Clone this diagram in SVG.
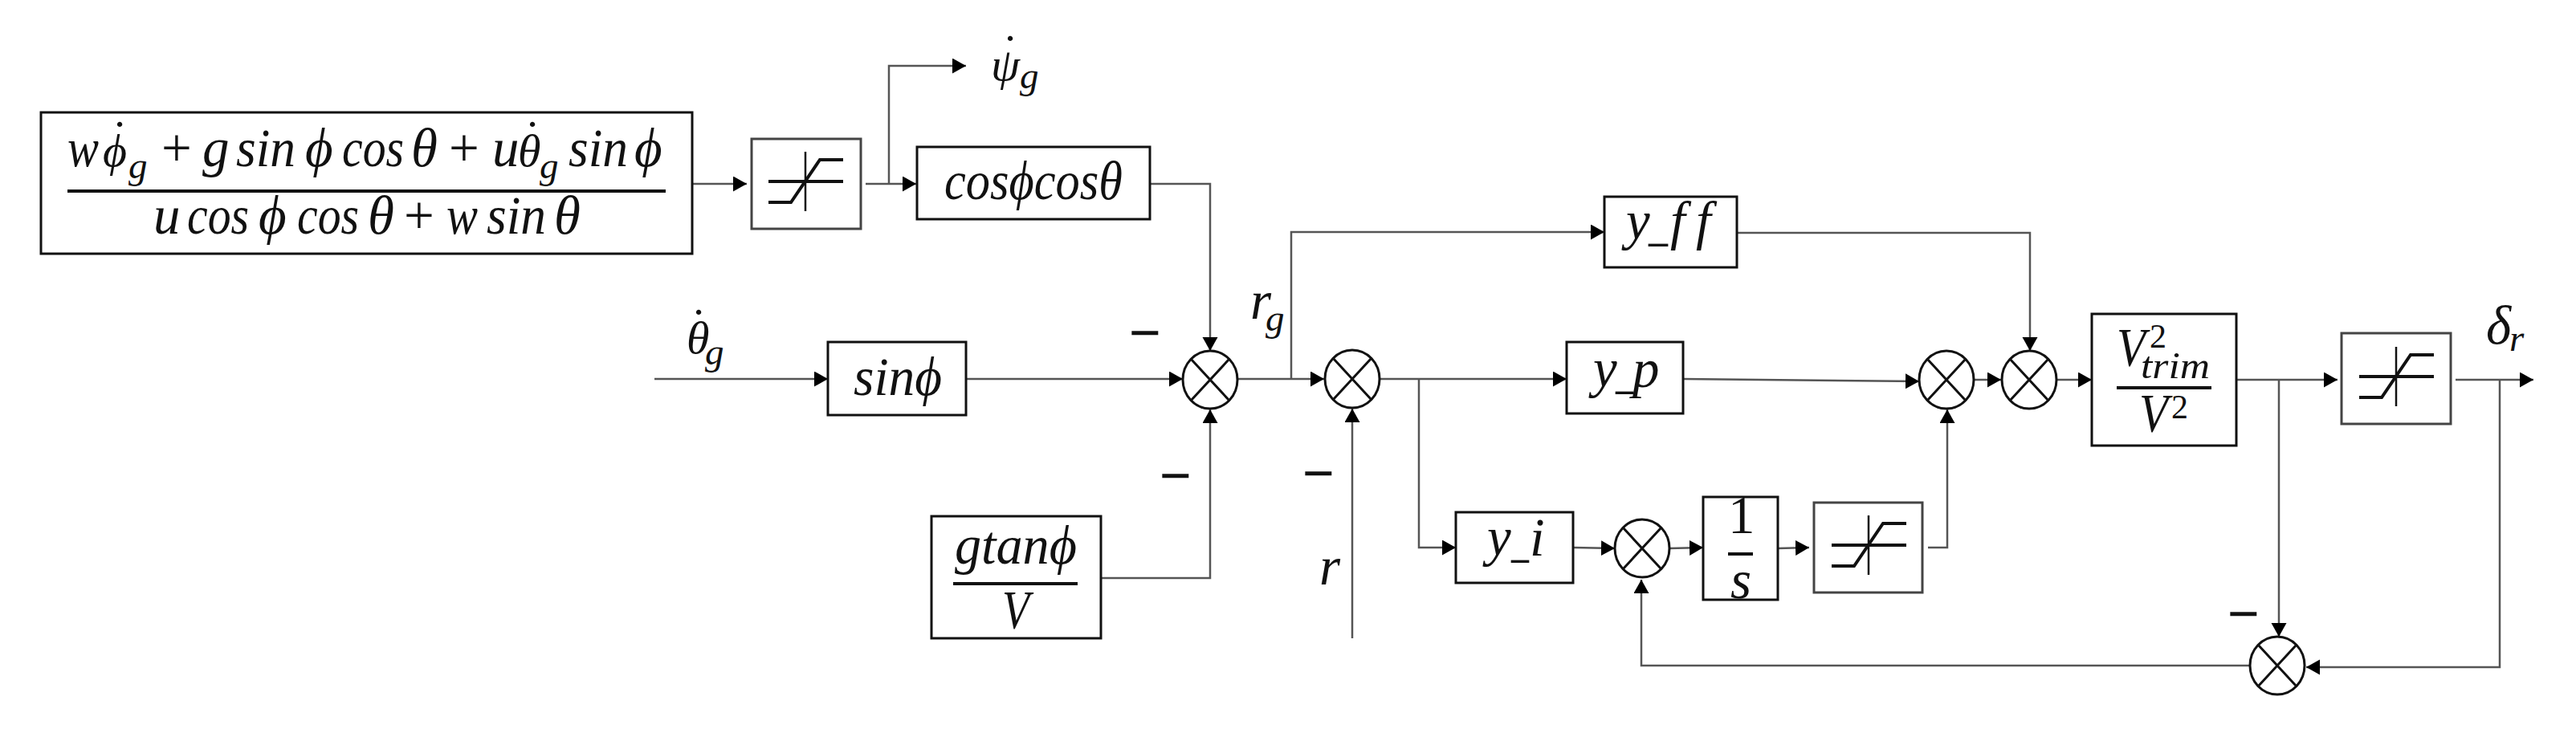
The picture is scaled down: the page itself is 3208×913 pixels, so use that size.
<svg xmlns="http://www.w3.org/2000/svg" width="3208" height="913" viewBox="0 0 3208 913">
<style>
text{font-family:"Liberation Serif","DejaVu Serif",serif;font-style:italic;font-size:67px;fill:#111}
.up{font-style:normal}
.sub{font-size:47px}
.sup{font-style:normal;font-size:42px}
.dot{font-style:normal;font-size:60px}
.ac{font-size:58px}
.minus{font-style:normal;stroke:#111;stroke-width:1.6}
.box{fill:#fff;stroke:#111;stroke-width:3}
.thin{fill:#fff;stroke:#444;stroke-width:3}
.bar{stroke:#111;stroke-width:4;fill:none}
.c{fill:none;stroke:#555;stroke-width:2.5;marker-end:url(#arr)}
.n{fill:none;stroke:#555;stroke-width:2.5}
.sym{fill:#fff;stroke:#111;stroke-width:3}
.sat{fill:none;stroke:#111;stroke-width:4}
.sat2{fill:none;stroke:#111;stroke-width:2.5}
</style>
<defs>
<marker id="arr" markerUnits="userSpaceOnUse" markerWidth="18" markerHeight="20" refX="17" refY="9.5" orient="auto"><path d="M0 0L17 9.5L0 19Z" fill="#000"/></marker>
<g id="sum"><ellipse class="sym" rx="34" ry="36"/><path class="sym" d="M-24-26L24 26M-24 26L24-26"/></g>
<g id="satg"><path class="sat" d="M-46 0H47M-46 26H-18L18-27H47"/><path class="sat2" d="M0-37V37"/></g>
</defs>
<rect width="3208" height="913" fill="#fff"/>
<g id="connectors">
<path class="c" d="M862 229H930"/>
<path class="n" d="M1078 229H1107"/>
<path class="c" d="M1107 229H1141"/>
<path class="c" d="M1107 229V82H1203"/>
<path class="c" d="M1432 229H1507V437"/>
<path class="c" d="M815 472H1031"/>
<path class="c" d="M1203 472H1473"/>
<path class="c" d="M1371 720H1507V510"/>
<path class="c" d="M1541 472H1649"/>
<path class="c" d="M1608 472V289H1998"/>
<path class="c" d="M1684 795V509"/>
<path class="c" d="M1718 472H1951"/>
<path class="c" d="M1767 472V682H1813"/>
<path class="c" d="M2163 290H2528V437"/>
<path class="c" d="M2096 472L2390 475"/>
<path class="c" d="M1959 682L2011 683"/>
<path class="c" d="M2079 683L2121 682"/>
<path class="c" d="M2214 683L2253 682"/>
<path class="c" d="M2401 682H2425V510"/>
<path class="c" d="M2459 473H2492"/>
<path class="c" d="M2561 473H2605"/>
<path class="c" d="M2785 473H2911"/>
<path class="c" d="M2838 473V793"/>
<path class="n" d="M3058 473H3113"/>
<path class="c" d="M3113 473H3155"/>
<path class="c" d="M3113 473V831H2872"/>
<path class="c" d="M2802 829H2044V722"/>
</g>
<g id="formula">
<rect class="box" x="51" y="140" width="811" height="176"/>
<text y="207"><tspan x="84" textLength="39" lengthAdjust="spacingAndGlyphs">w</tspan><tspan x="128" class="ac">ϕ</tspan><tspan x="160" y="222" class="sub">g</tspan><tspan class="up" x="201" y="207">+</tspan><tspan x="252">g</tspan><tspan x="294" textLength="74" lengthAdjust="spacingAndGlyphs">sin</tspan><tspan x="380">ϕ</tspan><tspan x="426" textLength="77" lengthAdjust="spacingAndGlyphs">cos</tspan><tspan x="512">θ</tspan><tspan class="up" x="559">+</tspan><tspan x="613">u</tspan><tspan x="645" class="ac">θ</tspan><tspan x="672" y="222" class="sub">g</tspan><tspan x="708" y="207" textLength="74" lengthAdjust="spacingAndGlyphs">sin</tspan><tspan x="790">ϕ</tspan></text>
<text class="dot" x="139" y="191">˙</text><text class="dot" x="653" y="191">˙</text>
<path class="bar" d="M84 238H829"/>
<text y="291"><tspan x="191">u</tspan><tspan x="233" textLength="77" lengthAdjust="spacingAndGlyphs">cos</tspan><tspan x="322">ϕ</tspan><tspan x="370" textLength="77" lengthAdjust="spacingAndGlyphs">cos</tspan><tspan x="458">θ</tspan><tspan class="up" x="503">+</tspan><tspan x="556" textLength="39" lengthAdjust="spacingAndGlyphs">w</tspan><tspan x="606" textLength="74" lengthAdjust="spacingAndGlyphs">sin</tspan><tspan x="690">θ</tspan></text>
</g>
<g id="sat1"><rect class="thin" x="936" y="173" width="136" height="112"/><use href="#satg" x="1003" y="226"/></g>
<g id="psi"><text y="100"><tspan x="1234" class="ac">ψ</tspan><tspan x="1270" y="110" class="sub">g</tspan></text><text class="dot" x="1248" y="84">˙</text></g>
<g id="cosbox"><rect class="box" x="1142" y="183" width="290" height="90"/><text x="1176" y="248" textLength="222" lengthAdjust="spacingAndGlyphs">cosϕcosθ</text></g>
<g id="theta"><text y="440"><tspan x="855" class="ac">θ</tspan><tspan x="878" y="454" class="sub">g</tspan></text><text class="dot" x="860" y="425">˙</text></g>
<g id="sinbox"><rect class="box" x="1031" y="426" width="172" height="91"/><text x="1063" y="492" textLength="110" lengthAdjust="spacingAndGlyphs">sinϕ</text></g>
<g id="gtanbox"><rect class="box" x="1160" y="643" width="211" height="152"/><text x="1189" y="702" textLength="152" lengthAdjust="spacingAndGlyphs">gtanϕ</text><path class="bar" d="M1187 727H1342"/><text x="1248" y="782" textLength="34" lengthAdjust="spacingAndGlyphs">V</text></g>
<g id="sum1"><use href="#sum" x="1507" y="473"/></g>
<g id="sum2"><use href="#sum" x="1684" y="472"/></g>
<g id="rg"><text y="397"><tspan x="1557">r</tspan><tspan x="1576" y="412" class="sub">g</tspan></text></g>
<g id="rlabel"><text x="1643" y="728">r</text></g>
<g id="minus1"><text class="minus" x="1407" y="437" textLength="38" lengthAdjust="spacingAndGlyphs">−</text></g>
<g id="minus2"><text class="minus" x="1445" y="615" textLength="38" lengthAdjust="spacingAndGlyphs">−</text></g>
<g id="minus3"><text class="minus" x="1623" y="612" textLength="38" lengthAdjust="spacingAndGlyphs">−</text></g>
<g id="minus4"><text class="minus" x="2775" y="787" textLength="38" lengthAdjust="spacingAndGlyphs">−</text></g>
<g id="yff"><rect class="box" x="1998" y="245" width="165" height="88"/><text y="298"><tspan x="2025">y</tspan><tspan x="2053" textLength="24" lengthAdjust="spacingAndGlyphs">_</tspan><tspan x="2080">f</tspan><tspan x="2112">f</tspan></text></g>
<g id="yp"><rect class="box" x="1951" y="426" width="145" height="89"/><text y="482"><tspan x="1984">y</tspan><tspan x="2012" textLength="22" lengthAdjust="spacingAndGlyphs">_</tspan><tspan x="2033">p</tspan></text></g>
<g id="yi"><rect class="box" x="1813" y="638" width="146" height="88"/><text y="692"><tspan x="1852">y</tspan><tspan x="1882" textLength="22" lengthAdjust="spacingAndGlyphs">_</tspan><tspan x="1905">i</tspan></text></g>
<g id="sum3i"><use href="#sum" x="2045" y="683"/></g>
<g id="intbox"><rect class="box" x="2121" y="619" width="93" height="128"/><text class="up" x="2152" y="664">1</text><path class="bar" d="M2152 690H2183"/><text x="2155" y="745">s</text></g>
<g id="sat2"><rect class="thin" x="2259" y="626" width="135" height="112"/><use href="#satg" x="2327" y="679"/></g>
<g id="sum4"><use href="#sum" x="2424" y="473"/></g>
<g id="sum5"><use href="#sum" x="2527" y="473"/></g>
<g id="vbox"><rect class="box" x="2605" y="391" width="180" height="164"/><text x="2636" y="455" textLength="36" lengthAdjust="spacingAndGlyphs">V</text><text class="sup" x="2677" y="433">2</text><text class="sub" x="2666" y="471" textLength="86" lengthAdjust="spacingAndGlyphs">trim</text><path class="bar" d="M2636 483H2754"/><text x="2664" y="537" textLength="36" lengthAdjust="spacingAndGlyphs">V</text><text class="sup" x="2704" y="521">2</text></g>
<g id="sat3"><rect class="thin" x="2916" y="415" width="136" height="113"/><use href="#satg" x="2984" y="469"/></g>
<g id="sum6"><use href="#sum" x="2836" y="829"/></g>
<g id="delta"><text y="428"><tspan x="3096">δ</tspan><tspan x="3125" y="437" class="sub">r</tspan></text></g>
</svg>
